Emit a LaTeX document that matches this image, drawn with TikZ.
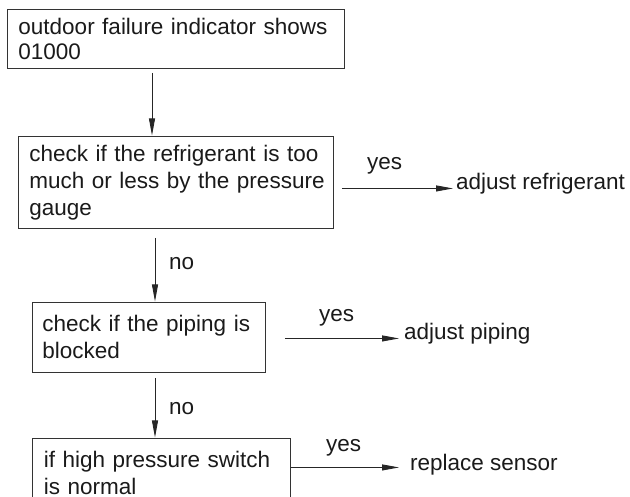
\documentclass[tikz,border=0pt]{standalone}
\usepackage{fontspec}
\setmainfont{Liberation Sans}
\usetikzlibrary{arrows.meta}
\definecolor{ink}{HTML}{1A1A1A}
\begin{document}
\begin{tikzpicture}[x=1pt,y=-1pt,
  every node/.style={text=ink},
  box/.style={draw=black!80, line width=0.9pt, anchor=north west, align=left,
    inner ysep=0pt, font=\fontsize{22.5}{27}\selectfont},
  lbl/.style={anchor=base west, inner sep=0pt, font=\fontsize{22.5}{27}\selectfont},
  arr/.style={draw=black!85, line width=0.9pt, -{Triangle[length=17pt,width=6pt]}}]
\useasboundingbox (0,0) rectangle (630,497);
\clip (0,0) rectangle (630,497);
% boxes
\node[box, inner xsep=11pt, text width=315pt, minimum height=59pt,
  font=\fontsize{22.5}{25.6}\selectfont] (b1) at (7,9)
  {\mbox{outdoor failure indicator shows}\\01000};
\node[box, inner xsep=11pt, text width=293pt, minimum height=92pt] (b2) at (18,136)
  {\mbox{check if the refrigerant is too}\\\mbox{much or less by the pressure}\\gauge};
\node[box, inner xsep=10pt, text width=213pt, minimum height=70pt] (b3) at (32,302)
  {\mbox{check if the piping is}\\blocked};
\node[box, inner xsep=11.5pt, text width=235pt, minimum height=70pt] (b4) at (32,438)
  {\mbox{if high pressure switch}\\is normal};
% results
\node[lbl] (r1) at (456,189.5) {adjust refrigerant};
\node[lbl] (r2) at (404,340) {adjust piping};
\node[lbl] (r3) at (410,471) {replace sensor};
% labels
\node[lbl] (y1) at (367,170) {yes};
\node[lbl] (y2) at (319,322) {yes};
\node[lbl] (y3) at (326,451) {yes};
\node[lbl] (n1) at (169,270) {no};
\node[lbl] (n2) at (169,414) {no};
% vertical connectors
\draw[arr] ([shift={(145,4)}]b1.south west) -- ([shift={(134,-0.5)}]b2.north west);
\draw[arr] ([shift={(137,9)}]b2.south west) -- ([shift={(123,-0.5)}]b3.north west);
\draw[arr] ([shift={(123,5)}]b3.south west) -- ([shift={(123,-0.5)}]b4.north west);
% horizontal connectors
\draw[arr, shorten >=3pt] ([shift={(8,6)}]b2.east) coordinate (s1) -- (s1 -| r1.west);
\draw[arr, shorten >=5pt] ([shift={(19,1)}]b3.east) coordinate (s2) -- (s2 -| r2.west);
\draw[arr, shorten >=11pt] ([shift={(0,-6)}]b4.east) coordinate (s3) -- (s3 -| r3.west);
\end{tikzpicture}
\end{document}
